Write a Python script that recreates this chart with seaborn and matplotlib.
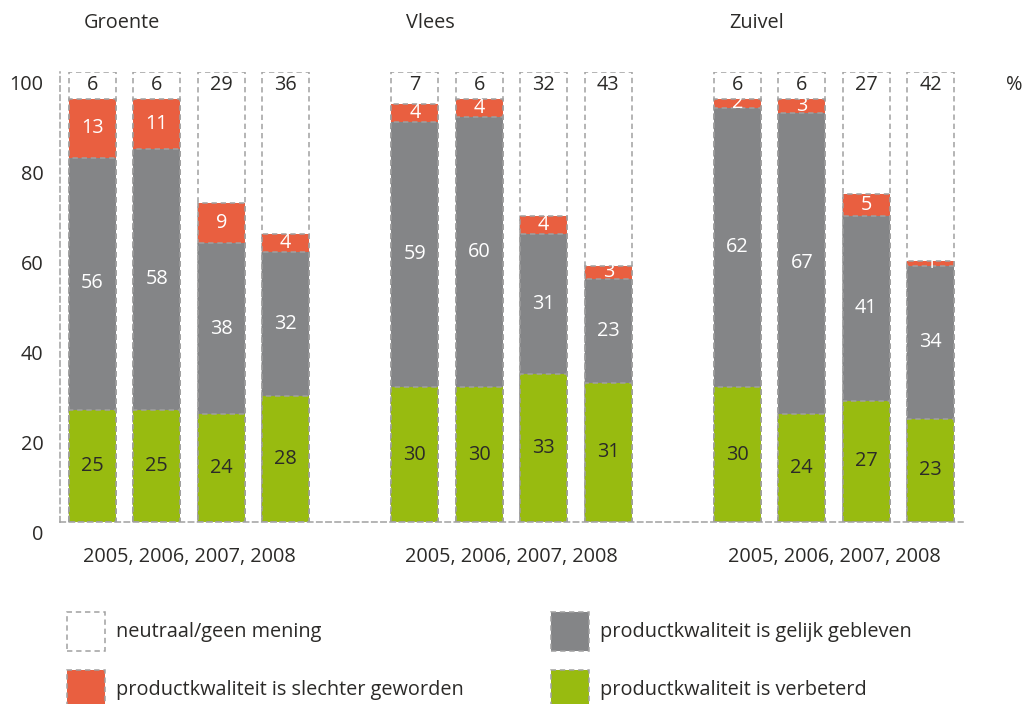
import matplotlib
matplotlib.use('Agg')
import matplotlib.pyplot as plt
import matplotlib.transforms as mtransforms
from matplotlib.patches import Rectangle
import seaborn as sns
import pandas as pd
import numpy as np

# Data (percentages)
groups = ["Groente", "Vlees", "Zuivel"]
years = ["2005", "2006", "2007", "2008"]

verbeterd = {
    "Groente": [25, 25, 24, 28],
    "Vlees": [30, 30, 33, 31],
    "Zuivel": [30, 24, 27, 23],
}
gelijk = {
    "Groente": [56, 58, 38, 32],
    "Vlees": [59, 60, 31, 23],
    "Zuivel": [62, 67, 41, 34],
}
slechter = {
    "Groente": [13, 11, 9, 4],
    "Vlees": [4, 4, 4, 3],
    "Zuivel": [2, 3, 5, 1],
}
neutraal = {
    "Groente": [6, 6, 29, 36],
    "Vlees": [7, 6, 32, 43],
    "Zuivel": [6, 6, 27, 42],
}

legend_labels = [
    "neutraal/geen mening",
    "productkwaliteit is slechter geworden",
    "productkwaliteit is gelijk gebleven",
    "productkwaliteit is verbeterd",
]

GREEN = "#98bb10"
GRAY = "#848587"
RED = "#e95f40"
EDGE = "#a0a0a0"
TXT = "#2b2a28"

sns.set_style("white")
plt.rcParams['font.family'] = ['Open Sans', 'DejaVu Sans']

# build long table, with empty slots between groups
rows = []
order = []
for gi, g in enumerate(groups):
    for yi, yr in enumerate(years):
        slot = f"{g}-{yr}"
        order.append(slot)
        v, ge, s, n = verbeterd[g][yi], gelijk[g][yi], slechter[g][yi], neutraal[g][yi]
        rows.append({"slot": slot, "green": v, "gray": v + ge,
                     "red": v + ge + s, "total": v + ge + s + n})
    if gi < len(groups) - 1:
        order.append(f"gap{gi}")
df = pd.DataFrame(rows)

fig = plt.figure(figsize=(10.22, 7.04), dpi=100)
ax = fig.add_axes([60 / 1022, 1 - 522 / 704, (963 - 60) / 1022, 450 / 704])

dash = (0, (3.5, 2.5))
common = dict(data=df, x="slot", order=order, width=0.73, saturation=1,
              errorbar=None, edgecolor=EDGE, linewidth=1.1, linestyle=dash, ax=ax)
sns.barplot(y="total", color="white", **common)
sns.barplot(y="red", color=RED, **common)
sns.barplot(y="gray", color=GRAY, **common)
sns.barplot(y="green", color=GREEN, **common)

# value labels
fs = 14.3
for gi, g in enumerate(groups):
    for yi in range(len(years)):
        x = order.index(f"{g}-{years[yi]}")
        v, ge, s, n = verbeterd[g][yi], gelijk[g][yi], slechter[g][yi], neutraal[g][yi]
        ax.text(x, v / 2, str(v), ha='center', va='center', color=TXT, fontsize=fs)
        ax.text(x, v + ge / 2, str(ge), ha='center', va='center', color='white', fontsize=fs)
        ax.text(x, v + ge + s / 2, str(s), ha='center', va='center', color='white', fontsize=fs)
        ax.text(x, 97.2, str(n), ha='center', va='center', color=TXT, fontsize=fs)
    ax.text(order.index(f"{g}-{years[0]}") - 0.13, 111, g, ha='left', va='center',
            color=TXT, fontsize=fs, clip_on=False)

ax.text(14.3, 97.2, "%", ha='center', va='center', color=TXT, fontsize=fs, clip_on=False)

ax.set_xlim(-0.5, len(order) - 0.5)
ax.set_ylim(0, 100)
ax.set_xlabel("")
ax.set_ylabel("")

# x axis: group labels, boundary ticks
centers = [order.index(f"{g}-{years[0]}") + 1.5 for g in groups]
ax.set_xticks(centers)
ax.set_xticklabels([", ".join(years)] * len(groups))
ax.set_xticks(np.arange(-0.5, len(order), 1.0), minor=True)
ax.tick_params(axis='x', which='major', length=0, pad=18, labelsize=fs, labelcolor=TXT)
ax.tick_params(axis='x', which='minor', direction='in', length=5, width=1, color=EDGE)

ax.set_yticks(range(0, 101, 20))
ax.tick_params(axis='y', direction='in', length=6, width=1, color=EDGE, pad=12,
               labelsize=fs, labelcolor=TXT)
offset = mtransforms.ScaledTranslation(0, -10 / 100, fig.dpi_scale_trans)
for lab in ax.get_yticklabels():
    lab.set_transform(lab.get_transform() + offset)

for side in ["top", "right"]:
    ax.spines[side].set_visible(False)
for side in ["left", "bottom"]:
    ax.spines[side].set_color(EDGE)
    ax.spines[side].set_linewidth(1.1)
    ax.spines[side].set_linestyle(dash)

# legend drawn as boxes in figure space
legend_colors = ["white", RED, GRAY, GREEN]
legend_pos = [(67, 612), (67, 670), (551, 612), (551, 670)]
for lab, col, (px, py) in zip(legend_labels, legend_colors, legend_pos):
    fig.add_artist(Rectangle((px / 1022, 1 - (py + 39) / 704), 38 / 1022, 39 / 704,
                             transform=fig.transFigure, facecolor=col, edgecolor=EDGE,
                             linewidth=1.1, linestyle=dash))
    fig.text((px + 49) / 1022, 1 - (py + 20) / 704, lab, ha='left', va='center',
             color=TXT, fontsize=fs)

fig.savefig("out.png", dpi=100)
